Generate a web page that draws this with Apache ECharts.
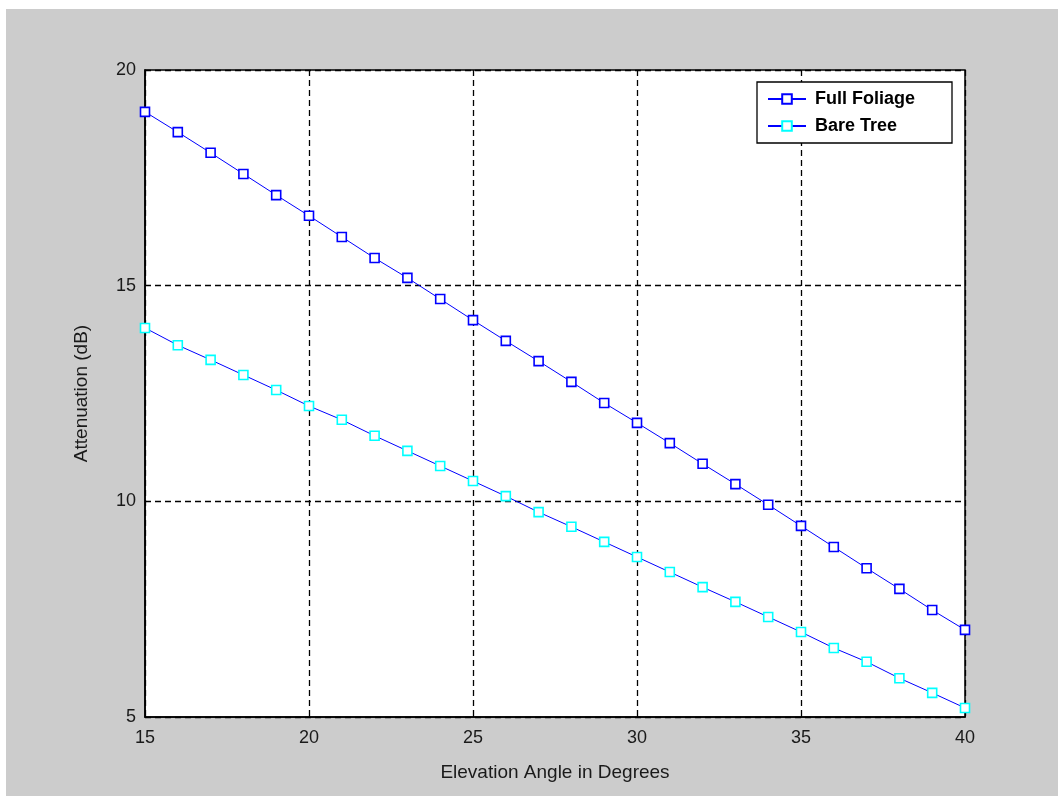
<!DOCTYPE html>
<html>
<head>
<meta charset="utf-8">
<script src="https://cdn.jsdelivr.net/npm/echarts@6/dist/echarts.min.js"></script>
<style>
  html, body { margin: 0; padding: 0; background: #ffffff; width: 1058px; height: 796px; overflow: hidden; }
  #chart { position: absolute; left: 6px; top: 9px; width: 1052px; height: 787px; background: #cccccc; }
</style>
</head>
<body>
<div id="chart"></div>
<script>
// Elevation angle (degrees)
const angles = [15, 16, 17, 18, 19, 20, 21, 22, 23, 24, 25, 26, 27, 28, 29, 30, 31, 32, 33, 34, 35, 36, 37, 38, 39, 40];
// Attenuation (dB) through full foliage
const fullFoliage = [19.03, 18.56, 18.08, 17.59, 17.10, 16.62, 16.13, 15.64, 15.18, 14.69, 14.20, 13.72, 13.25, 12.77, 12.28, 11.82, 11.35, 10.87, 10.40, 9.92, 9.43, 8.94, 8.45, 7.97, 7.48, 7.02];
// Attenuation (dB) through bare trees
const bareTree = [14.02, 13.62, 13.28, 12.93, 12.58, 12.21, 11.89, 11.52, 11.17, 10.82, 10.47, 10.12, 9.75, 9.41, 9.06, 8.71, 8.36, 8.01, 7.67, 7.32, 6.97, 6.60, 6.28, 5.90, 5.56, 5.21];
const seriesNames = ['Full Foliage', 'Bare Tree'];
const xTicks = [15, 20, 25, 30, 35, 40];
const yTicks = [5, 10, 15, 20];

const chart = echarts.init(document.getElementById('chart'), null, { renderer: 'canvas' });

const labelFont = { fontFamily: 'Liberation Sans, Arial, sans-serif', fontSize: 18, color: '#1a1a1a' };
const gridDash = { color: '#000000', width: 1.3, type: [6, 4] };

function pairs(ys) { return angles.map((a, i) => [a, ys[i]]); }

chart.setOption({
  animation: false,
  backgroundColor: '#cccccc',
  grid: {
    left: 139, top: 61, right: 93, bottom: 79,
    show: true, backgroundColor: '#ffffff', borderColor: '#000000', borderWidth: 1.5
  },
  legend: {
    data: seriesNames,
    orient: 'vertical',
    left: 751, top: 73,
    padding: [8, 37, 8, 10],
    itemGap: 9,
    itemWidth: 38, itemHeight: 12,
    backgroundColor: '#ffffff',
    borderColor: '#000000', borderWidth: 1.3, borderRadius: 0,
    textStyle: { fontFamily: 'Liberation Sans, Arial, sans-serif', fontSize: 18, fontWeight: 'bold', color: '#000000', padding: [0, 0, 0, 4] }
  },
  xAxis: {
    type: 'value', min: 15, max: 40, interval: 5,
    name: 'Elevation Angle in Degrees', nameLocation: 'middle', nameGap: 46,
    nameTextStyle: { ...labelFont, fontSize: 19 },
    axisLine: { lineStyle: { color: '#000000', width: 1.5 } },
    axisTick: { inside: true, length: 5, lineStyle: { color: '#000000' } },
    axisLabel: { ...labelFont, margin: 12, formatter: v => xTicks.includes(v) ? String(v) : '' },
    splitLine: { show: true, lineStyle: gridDash }
  },
  yAxis: {
    type: 'value', min: 5, max: 20, interval: 5,
    name: 'Attenuation (dB)', nameLocation: 'middle', nameGap: 54, nameRotate: 90,
    nameTextStyle: { ...labelFont, fontSize: 19 },
    axisLine: { lineStyle: { color: '#000000', width: 1.5 } },
    axisTick: { inside: true, length: 5, lineStyle: { color: '#000000' } },
    axisLabel: { ...labelFont, margin: 9, formatter: v => yTicks.includes(v) ? String(v) : '' },
    splitLine: { show: true, lineStyle: gridDash }
  },
  series: [
    {
      name: seriesNames[0], type: 'line', data: pairs(fullFoliage),
      symbol: 'rect', symbolSize: 9, showAllSymbol: true,
      lineStyle: { color: '#0000ff', width: 1 },
      itemStyle: { color: '#ffffff', borderColor: '#0000ff', borderWidth: 1.6 },
      emphasis: { disabled: true }
    },
    {
      name: seriesNames[1], type: 'line', data: pairs(bareTree),
      symbol: 'rect', symbolSize: 9, showAllSymbol: true,
      lineStyle: { color: '#0000ff', width: 1 },
      itemStyle: { color: '#ffffff', borderColor: '#00ffff', borderWidth: 1.6 },
      emphasis: { disabled: true }
    }
  ]
});
</script>
</body>
</html>
